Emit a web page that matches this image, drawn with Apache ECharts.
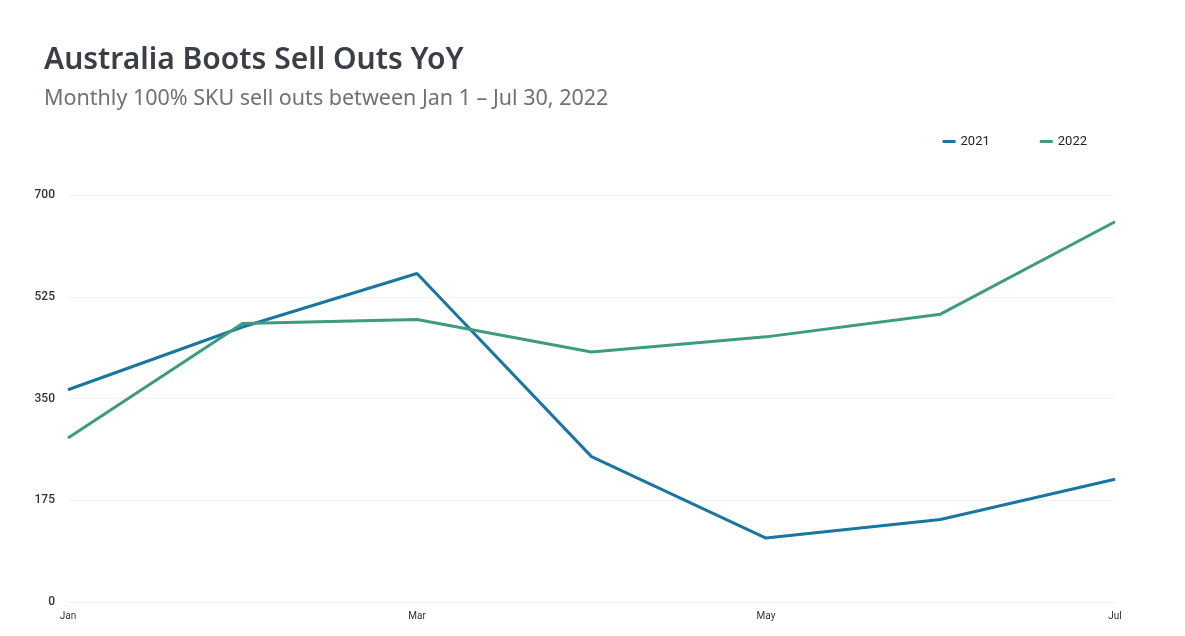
<!DOCTYPE html>
<html lang="en">
<head>
  <meta charset="UTF-8" />
  <title>Australia Boots Sell Outs YoY</title>
  <script src="https://cdn.jsdelivr.net/npm/echarts@6/dist/echarts.min.js"></script>
  <style>
    html, body { margin: 0; padding: 0; background: #fff; }
    #chart { width: 1185px; height: 636px; }
  </style>
</head>
<body>
  <div id="chart"></div>
  <script>
    const months = ['Jan', 'Feb', 'Mar', 'Apr', 'May', 'Jun', 'Jul'];
    const sales2021 = [365, 473, 565, 250, 110, 142, 211];
    const sales2022 = [282, 479, 486, 430, 456, 495, 654];
    const yTicks = [0, 175, 350, 525, 700];

    const chart = echarts.init(document.getElementById('chart'));
    chart.setOption({
      animation: false,
      textStyle: { fontFamily: '"Noto Sans", sans-serif' },
      title: {
        text: 'Australia Boots Sell Outs YoY',
        subtext: 'Monthly 100% SKU sell outs between Jan 1 \u2013 Jul 30, 2022',
        left: 39,
        top: 40,
        itemGap: 13,
        textStyle: { fontSize: 30, fontWeight: 600, color: '#3b3e45', fontFamily: '"Noto Sans", sans-serif' },
        subtextStyle: { fontSize: 21.5, color: '#6e7178', fontFamily: '"Noto Sans", sans-serif' }
      },
      legend: {
        right: 93,
        top: 130,
        itemWidth: 13,
        itemHeight: 3,
        itemGap: 50,
        icon: 'rect',
        textStyle: { fontSize: 13, color: '#222', fontFamily: 'Roboto, sans-serif' },
        data: ['2021', '2022']
      },
      grid: { left: 68, right: 70, top: 195, bottom: 34, containLabel: false },
      xAxis: {
        type: 'category',
        boundaryGap: false,
        data: months,
        axisLine: { lineStyle: { color: '#f0f0f0' } },
        axisTick: { show: false },
        axisLabel: { interval: 1, fontSize: 10, color: '#333', margin: 9, fontFamily: 'Roboto, sans-serif' }
      },
      yAxis: {
        type: 'value',
        min: yTicks[0],
        max: yTicks[yTicks.length - 1],
        interval: yTicks[1] - yTicks[0],
        axisLine: { show: false },
        axisTick: { show: false },
        splitLine: { lineStyle: { color: '#f2f2f2' } },
        axisLabel: { fontSize: 12, fontWeight: 500, color: '#333', margin: 13, fontFamily: 'Roboto, sans-serif' }
      },
      series: [
        {
          name: '2021',
          type: 'line',
          data: sales2021,
          showSymbol: false,
          symbol: 'none',
          lineStyle: { width: 3, color: '#1a76a0' },
          itemStyle: { color: '#1a76a0' }
        },
        {
          name: '2022',
          type: 'line',
          data: sales2022,
          showSymbol: false,
          symbol: 'none',
          lineStyle: { width: 3, color: '#3e9b80' },
          itemStyle: { color: '#3e9b80' }
        }
      ]
    });
  </script>
</body>
</html>
